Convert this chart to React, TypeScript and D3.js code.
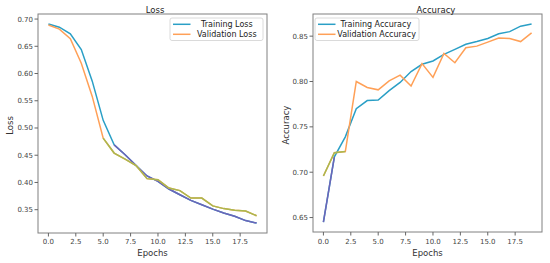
import React from "react";
import * as d3 from "d3";

// epochs 0..19
const epochs = d3.range(20);

const trainLoss = [0.691, 0.685, 0.673, 0.644, 0.586, 0.514, 0.469, 0.451, 0.431, 0.412,
  0.402, 0.388, 0.3775, 0.367, 0.359, 0.351, 0.344, 0.338, 0.330, 0.3255];
const valLoss = [0.689, 0.6816, 0.664, 0.619, 0.558, 0.4815, 0.454, 0.443, 0.431, 0.407,
  0.405, 0.3897, 0.385, 0.3713, 0.3713, 0.357, 0.352, 0.349, 0.3475, 0.339];

const trainAcc = [0.645, 0.717, 0.739, 0.770, 0.779, 0.7795, 0.790, 0.799, 0.811, 0.819,
  0.8226, 0.830, 0.8354, 0.841, 0.844, 0.8474, 0.8526, 0.855, 0.861, 0.8635];
const valAcc = [0.6958, 0.7214, 0.7228, 0.800, 0.7934, 0.7908, 0.8007, 0.807, 0.795, 0.8197,
  0.8045, 0.831, 0.8207, 0.8372, 0.839, 0.8434, 0.848, 0.8474, 0.844, 0.8537];

const xTicks = [0, 2.5, 5, 7.5, 10, 12.5, 15, 17.5];
const lossTicks = [0.35, 0.4, 0.45, 0.5, 0.55, 0.6, 0.65, 0.7];
const accTicks = [0.65, 0.7, 0.75, 0.8, 0.85];

const lossLabels = ["Training Loss", "Validation Loss"];
const accLabels = ["Training Accuracy", "Validation Accuracy"];

// index ranges where the scanned lines look recoloured
const lossTint = [[6, 19], [5, 19]];
const accTint = [[0, 1], [0, 2]];

const BLUE = "#2a9fc6";
const ORANGE = "#ffa057";
const PURPLE = "#6d64b8";
const OLIVE = "#a9b94f";
const FONT = "DejaVu Sans, sans-serif";

function Panel({ left, right, top, bottom, series, tint, yTicks, title, titleX, ylabel, ylabelX, labels, legend }) {
  const all = series.flat();
  const [lo, hi] = d3.extent(all);
  const pad = (hi - lo) * 0.05;
  const x = d3.scaleLinear().domain([-0.95, 19.95]).range([left, right]);
  const y = d3.scaleLinear().domain([lo - pad, hi + pad]).range([bottom, top]);
  const line = d3.line().x((d) => x(d[0])).y((d) => y(d[1]));
  const colors = [BLUE, ORANGE];
  const alt = [PURPLE, OLIVE];

  return (
    <g>
      {series.map((s, i) => {
        const pts = epochs.map((e) => [e, s[e]]);
        const [a, b] = tint[i];
        return (
          <g key={i}>
            <path d={line(pts)} fill="none" stroke={colors[i]} strokeWidth={1.5} />
            <path d={line(pts.slice(a, b + 1))} fill="none" stroke={alt[i]} strokeWidth={1.5} />
          </g>
        );
      })}
      <rect x={left} y={top} width={right - left} height={bottom - top} fill="none" stroke="#808080" strokeWidth={1} />
      {xTicks.map((t) => (
        <g key={t}>
          <line x1={x(t)} x2={x(t)} y1={bottom} y2={bottom + 3.5} stroke="#666" />
          <text x={x(t)} y={244} textAnchor="middle" fontSize={7} fill="#444" fontFamily={FONT}>
            {t.toFixed(1)}
          </text>
        </g>
      ))}
      {yTicks.map((t) => (
        <g key={t}>
          <line x1={left - 3.5} x2={left} y1={y(t)} y2={y(t)} stroke="#666" />
          <text x={left - 5} y={y(t) + 2.5} textAnchor="end" fontSize={7} fill="#444" fontFamily={FONT}>
            {t.toFixed(2)}
          </text>
        </g>
      ))}
      <text x={titleX} y={12.5} textAnchor="middle" fontSize={8.5} fill="#222" fontFamily={FONT}>{title}</text>
      <text x={(left + right) / 2} y={256} textAnchor="middle" fontSize={8.5} fill="#333" fontFamily={FONT}>Epochs</text>
      <text transform={`translate(${ylabelX},${(top + bottom) / 2 + 2}) rotate(-90)`} textAnchor="middle"
        fontSize={8.5} fill="#333" fontFamily={FONT}>{ylabel}</text>
      <rect x={legend.x} y={18} width={legend.w} height={22.5} rx={2} fill="white" fillOpacity={0.85} stroke="#d0d0d0" strokeWidth={0.8} />
      {labels.map((lab, i) => (
        <g key={lab}>
          <line x1={legend.x + 3} x2={legend.x + 20.5} y1={24.3 + i * 10} y2={24.3 + i * 10} stroke={colors[i]} strokeWidth={1.5} />
          <text x={legend.tx[i]} y={27.2 + i * 10} fontSize={8} fill="#222" fontFamily={FONT}>{lab}</text>
        </g>
      ))}
    </g>
  );
}

export default function App() {
  return (
    <svg width={550} height={263} style={{ position: "absolute", left: 0, top: 0, background: "white" }}>
      <Panel left={38} right={267} top={14} bottom={233} series={[trainLoss, valLoss]} tint={lossTint}
        yTicks={lossTicks} title="Loss" titleX={155} ylabel="Loss" ylabelX={13}
        labels={lossLabels} legend={{ x: 170, w: 93, tx: [201, 197] }} />
      <Panel left={313} right={542} top={14} bottom={232} series={[trainAcc, valAcc]} tint={accTint}
        yTicks={accTicks} title="Accuracy" titleX={436} ylabel="Accuracy" ylabelX={289}
        labels={accLabels} legend={{ x: 315, w: 104, tx: [340.5, 337.3] }} />
    </svg>
  );
}
